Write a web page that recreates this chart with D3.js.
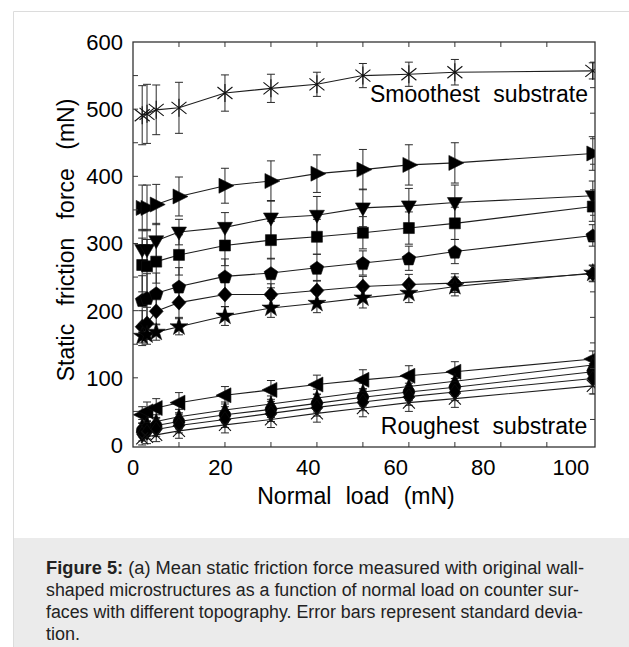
<!DOCTYPE html>
<html>
<head>
<meta charset="utf-8">
<script src="https://cdn.jsdelivr.net/npm/d3@7"></script>
<style>
html, body { margin: 0; padding: 0; background: #fff; }
svg { display: block; font-family: "Liberation Sans", Arial, sans-serif; }
</style>
</head>
<body>
<script>
// normal loads (mN) at which every surface was measured
var loads = [2.1, 3.2, 5.3, 10.5, 21, 31.5, 42, 52.5, 63, 73.5, 105];

// mean static friction force (mN) per substrate, top to bottom
var smoothest = [491, 493, 499, 502, 524, 531, 537, 550, 552, 555, 557];
var smoothestErr = [44, 44, 37, 38, 27, 21, 18, 18, 18, 19, 12];
var rightTri = [353, 353, 358, 370, 386, 393, 404, 410, 417, 420, 434];
var rightTriErr = [34, 34, 30, 29, 26, 30, 28, 30, 30, 30, 25];
var downTri = [291, 291, 304, 317, 324, 338, 342, 353, 356, 361, 371];
var downTriErr = [30, 30, 26, 19, 22, 26, 28, 28, 26, 26, 22];
var squares = [268, 266, 273, 283, 297, 305, 310, 316, 323, 330, 355];
var squaresErr = [40, 40, 32, 30, 30, 28, 26, 24, 24, 24, 22];
var pentagons = [216, 219, 226, 236, 251, 256, 264, 271, 278, 288, 312];
var pentagonsErr = [36, 36, 30, 28, 26, 22, 20, 18, 18, 18, 16];
var diamonds = [176, 181, 199, 212, 224, 224, 230, 236, 239, 241, 255];
var diamondsErr = [24, 24, 20, 22, 18, 16, 15, 15, 15, 14, 12];
var stars = [162, 164, 168, 176, 192, 204, 211, 219, 226, 236, 256];
var starsErr = [14, 14, 12, 12, 14, 14, 14, 15, 14, 14, 12];
var leftTri = [45, 50, 55, 63, 74, 82, 90, 97, 103, 109, 128];
var leftTriErr = [12, 14, 14, 15, 13, 14, 14, 15, 15, 15, 12];
var roughA = [28, 31, 35, 42, 52, 61, 70, 79, 87, 95, 119];
var roughB = [22, 25, 29, 35, 45, 53, 62, 71, 79, 86, 109];
var roughC = [16, 19, 23, 29, 38, 47, 56, 64, 72, 79, 99];
var roughD = [10, 12, 15, 21, 30, 38, 47, 55, 63, 69, 88];
var roughErr = [10, 10, 10, 11, 12, 12, 13, 13, 13, 13, 12];

// axis ticks and labels
var xLabels = [0, 20, 40, 60, 80, 100];
var xTicks = [10.5, 21, 31.5, 42, 52.5, 63, 73.5, 84, 94.5];
var yLabels = [0, 100, 200, 300, 400, 500, 600];
var yTicks = [50, 100, 150, 200, 250, 300, 350, 400, 450, 500, 550];
var yTicksRight = [38, 76, 114, 152, 190, 228, 266, 304, 342, 380, 418, 456, 494, 532, 570];

var captionLines = [
  ['Figure 5:', ' (a) Mean static friction force measured with original wall-'],
  ['', 'shaped microstructures as a function of normal load on counter sur-'],
  ['', 'faces with different topography. Error bars represent standard devia-'],
  ['', 'tion.']
];

var W = 629, H = 647;
var plot = { left: 133, right: 595, top: 42, bottom: 447 };

var x = d3.scaleLinear().domain([0, 105.5]).range([plot.left, plot.right]);
var y = d3.scaleLinear().domain([-3, 600]).range([plot.bottom, plot.top]);

// marker shapes, centred on the data point
function pentagonPath(r) {
  var pts = d3.range(5).map(function (i) {
    var a = -Math.PI / 2 + i * 2 * Math.PI / 5;
    return [r * Math.cos(a), r * Math.sin(a) + 0.8];
  });
  return 'M' + pts.join('L') + 'Z';
}
var shapes = {
  asterisk: { d: 'M0,-9V9M-7.5,-6L7.5,6M-7.5,6L7.5,-6', fill: false },
  right: { d: 'M-6,-7.5L9,0L-6,7.5Z', fill: true },
  left: { d: 'M6,-7.5L-9,0L6,7.5Z', fill: true },
  down: { d: 'M-7.5,-5L7.5,-5L0,8Z', fill: true },
  up: { d: 'M-6,6L6,6L0,-8Z', fill: true },
  square: { d: 'M-5.5,-5.5h11v11h-11Z', fill: true },
  diamond: { d: 'M0,-7.5L7,0L0,7.5L-7,0Z', fill: true },
  smallDiamond: { d: 'M0,-8L5.5,0L0,8L-5.5,0Z', fill: true },
  pentagon: { d: pentagonPath(7.2), fill: true },
  star: { d: d3.symbol(d3.symbolStar, 100)(), fill: true },
  circle: { d: d3.symbol(d3.symbolCircle, 105)(), fill: true },
  times: { d: 'M-6,-6L6,6M-6,6L6,-6', fill: false }
};

var series = [
  { values: smoothest, err: smoothestErr, shape: 'asterisk' },
  { values: rightTri, err: rightTriErr, shape: 'right' },
  { values: downTri, err: downTriErr, shape: 'down' },
  { values: squares, err: squaresErr, shape: 'square' },
  { values: pentagons, err: pentagonsErr, shape: 'pentagon' },
  { values: diamonds, err: diamondsErr, shape: 'diamond' },
  { values: stars, err: starsErr, shape: 'star' },
  { values: leftTri, err: leftTriErr, shape: 'left' },
  { values: roughA, err: roughErr, shape: 'up' },
  { values: roughB, err: roughErr, shape: 'circle' },
  { values: roughC, err: roughErr, shape: 'smallDiamond' },
  { values: roughD, err: roughErr, shape: 'times' }
];

var svg = d3.select('body').append('svg')
  .attr('width', W)
  .attr('height', H);

// card frame and caption box
svg.append('rect').attr('x', 0).attr('y', 0).attr('width', W).attr('height', H).attr('fill', '#fff');
svg.append('rect')
  .attr('x', 14).attr('y', 538).attr('width', W - 14).attr('height', H - 538)
  .attr('fill', '#ebebeb');
svg.append('path')
  .attr('d', 'M13.5,' + H + 'V11.5H' + W)
  .attr('fill', 'none').attr('stroke', '#dcdcdc').attr('stroke-width', 1);

svg.append('clipPath').attr('id', 'plotclip')
  .append('rect')
  .attr('x', plot.left).attr('y', plot.top)
  .attr('width', plot.right - plot.left).attr('height', plot.bottom - plot.top);

var g = svg.append('g').attr('clip-path', 'url(#plotclip)');

var line = d3.line()
  .x(function (d) { return x(d[0]); })
  .y(function (d) { return y(d[1]); });

// connecting lines
series.forEach(function (s) {
  g.append('path')
    .datum(loads.map(function (l, i) { return [l, s.values[i]]; }))
    .attr('d', line)
    .attr('fill', 'none')
    .attr('stroke', '#1e1e1e')
    .attr('stroke-width', 1.1);
});

// error bars
series.forEach(function (s) {
  var eb = g.append('g').attr('stroke', '#2a2a2a').attr('stroke-width', 1).attr('fill', 'none');
  loads.forEach(function (l, i) {
    var cx = x(l), top = y(s.values[i] + s.err[i]), bot = y(s.values[i] - s.err[i]);
    eb.append('path')
      .attr('d', 'M' + cx + ',' + top + 'V' + bot +
        'M' + (cx - 4) + ',' + top + 'H' + (cx + 4) +
        'M' + (cx - 4) + ',' + bot + 'H' + (cx + 4));
  });
});

// markers
series.forEach(function (s) {
  var shp = shapes[s.shape];
  g.append('g').selectAll('path')
    .data(loads.map(function (l, i) { return [l, s.values[i]]; }))
    .enter().append('path')
    .attr('transform', function (d) { return 'translate(' + x(d[0]) + ',' + y(d[1]) + ')'; })
    .attr('d', shp.d)
    .attr('fill', shp.fill ? '#000' : 'none')
    .attr('stroke', '#111')
    .attr('stroke-width', shp.fill ? 0.6 : 1.1);
});

// axes box with inward ticks
var axes = svg.append('g').attr('stroke', '#333').attr('fill', 'none');
axes.append('rect')
  .attr('x', plot.left).attr('y', plot.top)
  .attr('width', plot.right - plot.left).attr('height', plot.bottom - plot.top)
  .attr('stroke-width', 1.3);
xTicks.forEach(function (t) {
  axes.append('path').attr('d', 'M' + x(t) + ',' + plot.top + 'v5M' + x(t) + ',' + plot.bottom + 'v-5');
});
yTicks.forEach(function (t) {
  axes.append('path').attr('d', 'M' + plot.left + ',' + y(t) + 'h5');
});
yTicksRight.forEach(function (t) {
  axes.append('path').attr('d', 'M' + plot.right + ',' + y(t) + 'h-5');
});

// tick labels
svg.append('g').selectAll('text')
  .data(yLabels).enter().append('text')
  .attr('x', 123).attr('y', function (d) { return y(d); })
  .attr('dy', '0.36em')
  .attr('text-anchor', 'end')
  .attr('font-size', 22)
  .text(function (d) { return d; });

svg.append('g').selectAll('text')
  .data(xLabels).enter().append('text')
  .attr('x', function (d) { return x(d); }).attr('y', 467)
  .attr('dy', '0.36em')
  .attr('text-anchor', 'middle')
  .attr('font-size', 22)
  .text(function (d) { return d; });

// axis titles
svg.append('text')
  .attr('x', 356).attr('y', 496).attr('dy', '0.36em')
  .attr('text-anchor', 'middle').attr('font-size', 23)
  .style('word-spacing', '8px')
  .text('Normal load (mN)');

svg.append('text')
  .attr('transform', 'translate(66,240) rotate(-90)')
  .attr('dy', '0.36em')
  .attr('text-anchor', 'middle').attr('font-size', 23)
  .style('word-spacing', '12px')
  .text('Static friction force (mN)');

// annotations inside the plot
svg.append('text')
  .attr('x', 479).attr('y', 94).attr('dy', '0.36em')
  .attr('text-anchor', 'middle').attr('font-size', 23)
  .style('word-spacing', '7px')
  .text('Smoothest substrate');

svg.append('text')
  .attr('x', 484).attr('y', 426).attr('dy', '0.36em')
  .attr('text-anchor', 'middle').attr('font-size', 23)
  .style('word-spacing', '7px')
  .text('Roughest substrate');

// caption
var capWidths = [538, 533, 537, null];
captionLines.forEach(function (ln, i) {
  var t = svg.append('text')
    .attr('x', 46).attr('y', 568 + i * 22).attr('dy', '0.36em')
    .attr('font-size', 18).attr('fill', '#222');
  if (capWidths[i]) t.attr('textLength', capWidths[i]).attr('lengthAdjust', 'spacingAndGlyphs');
  if (ln[0]) t.append('tspan').attr('font-weight', 'bold').text(ln[0]);
  t.append('tspan').text(ln[1]);
});
</script>
</body>
</html>
